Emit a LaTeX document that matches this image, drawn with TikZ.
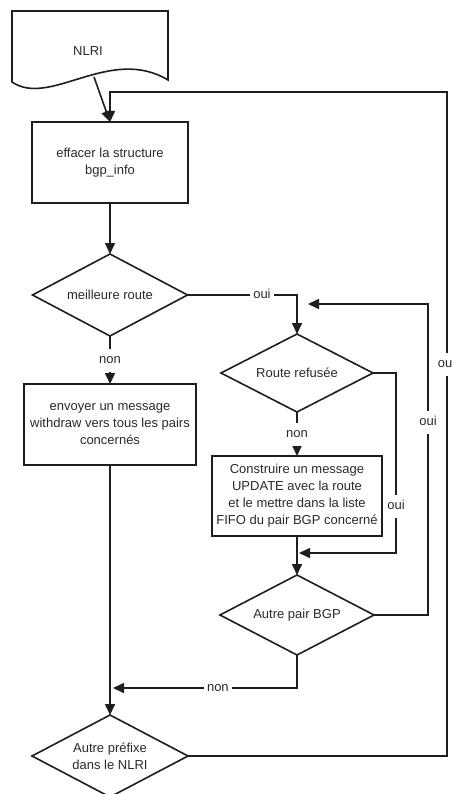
\documentclass[tikz,border=0pt]{standalone}
\usepackage{fontspec}
\setmainfont{Liberation Sans}
\usetikzlibrary{shapes.geometric,arrows.meta}
\definecolor{ink}{HTML}{1E1E1E}
\definecolor{txt}{HTML}{2A2A2A}
\begin{document}
\begin{tikzpicture}[x=1pt,y=-1pt,
  every node/.style={font=\fontsize{13}{17}\selectfont, text=txt},
  line/.style={draw=ink, line width=1.6pt},
  flow/.style={line, -{Triangle[length=11pt,width=10pt]}},
  procbox/.style={line, rectangle, align=center, inner sep=0pt, outer sep=0pt},
  decision/.style={line, diamond, shape aspect=2, align=center, inner sep=0pt, outer sep=0pt},
  lbl/.style={fill=white, inner xsep=3pt, inner ysep=6pt, text height=9pt, text depth=2pt},
]
\useasboundingbox (0,0) rectangle (452,794);
\fill[white] (0,0) rectangle (452,794);

% input document symbol
\draw[line, line join=miter] (12,11) -- (168,11) -- (168,80)
  .. controls (110,45) and (50,108) .. (12,82) -- cycle;
\node (nlri) at (88,51) {NLRI};
\coordinate (nlriout) at (94,77);

% process boxes
\node[procbox, minimum width=156pt, minimum height=81pt] (effacer) at (110,162.5)
  {effacer la structure\\bgp\_info};
\node[procbox, minimum width=172pt, minimum height=81pt] (envoyer) at (110,424.5)
  {envoyer un message\\withdraw vers tous les pairs\\concernés};
\node[procbox, minimum width=170pt, minimum height=80pt] (construire) at (297,496)
  {Construire un message\\UPDATE avec la route\\et le mettre dans la liste\\FIFO du pair BGP concerné};

% decisions
\node[decision, minimum width=155pt, minimum height=82pt] (meilleure) at (110,295) {meilleure route};
\node[decision, minimum width=152pt, minimum height=78pt] (routeref) at (297,373) {Route refusée};
\node[decision, minimum width=154pt, minimum height=80pt] (autrepair) at (297,615) {Autre pair BGP};
\node[decision, minimum width=156pt, minimum height=82pt] (autrepref) at (110,756)
  {Autre préfixe\\dans le NLRI};

% bend points and free ends
\coordinate (looptop) at (447,92);
\coordinate (rrturn) at (396,553);
\coordinate (join1) at (299,553);
\coordinate (apturn) at (428,304);
\coordinate (join2) at (308,304);
\coordinate (join3) at (113,688);

% connectors
\draw[flow] (nlriout) -- (effacer.north);
\draw[flow] (autrepref.east) -- (autrepref.east -| looptop)
  -- node[lbl, pos=0.59, xshift=-2pt] {ou} (looptop)
  -- (effacer.north |- looptop) -- (effacer.north);
\draw[flow] (effacer.south) -- (meilleure.north);
\draw[flow] (meilleure.east) -- node[lbl, pos=0.68] {oui} (meilleure.east -| routeref.north)
  -- (routeref.north);
\draw[flow] (meilleure.south) -- node[lbl, pos=0.5] {non} (envoyer.north);
\draw[flow] (routeref.south) -- node[lbl, pos=0.5] {non} (construire.north);
\draw[flow] (envoyer.south) -- (autrepref.north);
\draw[flow] (construire.south) -- (autrepair.north);
\draw[flow] (routeref.east) -- (routeref.east -| rrturn)
  -- node[lbl, pos=0.74] {oui} (rrturn) -- (join1);
\draw[flow] (autrepair.east) -- (autrepair.east -| apturn)
  -- node[lbl, pos=0.62] {oui} (apturn) -- (join2);
\draw[flow] (autrepair.south) -- (autrepair.south |- join3)
  -- node[lbl, pos=0.43] {non} (join3);
\end{tikzpicture}
\end{document}
